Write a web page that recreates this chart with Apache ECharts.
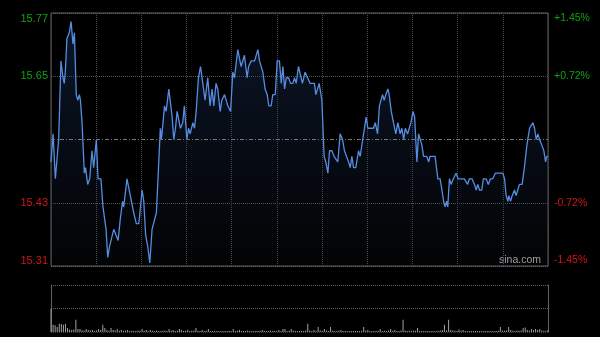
<!DOCTYPE html>
<html><head><meta charset="utf-8">
<script src="https://cdn.jsdelivr.net/npm/echarts@6/dist/echarts.min.js"></script>
<style>html,body{margin:0;padding:0;background:#000;}#c{width:600px;height:337px;}</style>
</head><body><div id="c"></div>
<script>
const prevClose = 15.54;
const pctTicks = [-1.45, -0.725, 0, 0.725, 1.45];
const leftTickLabels = ['15.31', '15.43', '', '15.65', '15.77'];
const rightTickLabels = ['-1.45%', '-0.72%', '', '+0.72%', '+1.45%'];
const watermark = 'sina.com';

const priceTimes = [0,1.0,2.1,2.6,3.7,4.8,5.8,6.4,6.9,7.7,8.8,9.7,10.6,11.3,12.2,12.9,13.7,14.2,15.0,16.1,16.7,17.7,18.7,19.8,20.6,21.9,22.7,24.1,25.1,25.8,26.6,27.4,28.3,29.0,30.3,31.4,32.4,33.5,34.6,35.1,36.7,38.3,39.9,41.2,42.4,44.0,44.8,45.7,46.7,47.7,48.8,50.9,52.8,53.3,54.1,54.8,55.6,56.9,58.5,59.3,
60.1,60.9,62.5,63.6,64.4,65.6,66.4,67.2,68.5,69.3,70.1,71.2,72.2,73.3,74.4,75.7,76.8,77.8,78.6,79.7,80.5,81.7,82.5,83.8,85.4,86.7,87.8,88.6,90.2,91.8,92.6,93.4,94.7,95.4,96.7,98.3,99.9,100.7,102.3,103.4,104.4,105.2,106.3,107.1,108.3,109.2,110.3,111.2,112.0,112.8,113.6,114.7,115.7,116.8,117.6,118.4,
119.5,120.3,121.4,122.7,123.9,125.1,127.2,127.9,128.7,129.5,130.8,131.9,132.7,133.7,134.5,135.6,136.7,137.5,138.5,139.6,140.8,141.7,142.5,143.7,144.5,145.3,146.1,147.2,148.5,149.3,150.1,150.9,152.2,153.0,154.1,155.7,156.6,157.7,158.6,159.5,160.1,160.9,161.7,162.7,163.3,164.3,165.4,166.5,167.5,168.6,169.4,170.3,171.1,172.2,173.0,173.8,174.8,175.6,176.7,177.5,178.3,179.1,179.9,
180.3,181.4,182.4,183.0,184.0,185.5,186.8,187.9,188.8,189.6,190.3,191.1,191.6,192.4,193.2,194.3,195.6,196.6,197.5,199.6,201.2,202.0,203.3,204.5,205.3,206.1,206.9,208.0,208.8,210.1,211.2,212.2,213.3,214.6,216.6,218.2,219.0,219.8,220.6,221.1,221.9,222.7,223.8,224.6,225.4,226.2,227.5,228.6,229.8,231.1,231.9,232.7,233.5,234.3,235.1,235.9,237.0,238.0,238.8,239.4,240];

const prices = [15.50,15.55,15.47,15.47,15.54,15.68,15.65,15.64,15.66,15.72,15.73,15.75,15.71,15.73,15.62,15.61,15.62,15.61,15.57,15.48,15.49,15.46,15.47,15.52,15.49,15.54,15.47,15.47,15.42,15.42,15.38,15.33,15.35,15.35,15.38,15.37,15.36,15.40,15.43,15.42,15.47,15.44,15.41,15.39,15.39,15.45,15.43,15.37,15.35,15.32,15.38,15.41,15.56,15.54,15.57,15.60,15.59,15.63,15.58,15.54,
15.56,15.59,15.56,15.57,15.60,15.54,15.56,15.55,15.57,15.56,15.59,15.65,15.67,15.64,15.61,15.65,15.60,15.63,15.60,15.64,15.63,15.59,15.61,15.62,15.60,15.59,15.66,15.65,15.70,15.67,15.67,15.69,15.65,15.67,15.68,15.68,15.70,15.68,15.66,15.63,15.62,15.60,15.60,15.62,15.62,15.68,15.68,15.64,15.67,15.63,15.65,15.65,15.64,15.64,15.65,15.64,
15.67,15.67,15.64,15.66,15.65,15.64,15.64,15.62,15.62,15.64,15.61,15.51,15.50,15.48,15.52,15.52,15.51,15.51,15.50,15.55,15.54,15.52,15.52,15.50,15.49,15.51,15.49,15.49,15.52,15.51,15.53,15.53,15.58,15.56,15.56,15.56,15.57,15.55,15.60,15.60,15.62,15.61,15.62,15.63,15.62,15.59,15.57,15.55,15.57,15.55,15.56,15.54,15.56,15.55,15.56,15.57,15.59,15.58,15.50,15.55,15.54,15.53,15.51,
15.51,15.51,15.50,15.51,15.51,15.51,15.47,15.47,15.45,15.43,15.42,15.43,15.42,15.47,15.46,15.47,15.48,15.47,15.47,15.47,15.46,15.47,15.47,15.46,15.45,15.46,15.45,15.45,15.47,15.47,15.46,15.47,15.47,15.48,15.48,15.48,15.47,15.44,15.43,15.44,15.43,15.44,15.45,15.44,15.45,15.46,15.46,15.49,15.53,15.56,15.56,15.57,15.56,15.54,15.55,15.54,15.53,15.52,15.50,15.51,15.51];

const volumes = [2300,700,650,500,800,780,700,800,400,250,200,250,1200,300,300,180,150,300,200,150,
200,120,150,300,200,700,400,200,120,400,200,150,300,120,200,100,120,200,100,120,
100,100,150,120,300,120,200,100,200,120,100,150,100,100,120,150,100,300,120,200,
100,120,300,200,100,120,200,100,120,150,400,120,100,200,100,120,300,100,100,120,
100,80,100,100,80,100,120,100,300,100,120,200,100,80,100,150,100,80,100,80,
100,120,200,100,80,100,150,100,80,100,200,100,300,300,100,120,300,150,100,80,
100,120,100,150,800,150,100,200,100,500,150,120,300,150,100,500,120,100,100,120,
200,100,80,100,80,100,100,80,100,100,120,500,150,200,100,100,80,100,120,300,
100,120,100,150,300,120,200,100,100,150,1200,150,100,120,100,150,120,400,100,100,
80,100,100,80,100,80,100,120,150,200,700,150,1200,200,150,120,100,250,120,200,
100,80,100,80,100,80,100,80,100,100,80,100,80,100,100,80,120,500,150,120,
150,500,200,120,100,150,120,150,400,450,200,150,300,200,300,200,300,150,120,100,
200];

const pricePoints = priceTimes.map((t, k) => [t, +((prices[k] / prevClose - 1) * 100).toFixed(4)]);
const volPoints = volumes.map((v, k) => [k, v]);

const GREEN = '#12a012', RED = '#d41414';
const chart = echarts.init(document.getElementById('c'), null, {renderer: 'canvas'});
chart.setOption({
  backgroundColor: '#000',
  animation: false,
  grid: [
    {left: 51, top: 13, width: 497, height: 253, show: true, borderColor: '#626262', borderWidth: 1, backgroundColor: 'transparent'},
    {left: 51, top: 285, width: 497, height: 47}
  ],
  xAxis: [
    {type: 'value', gridIndex: 0, min: 0, max: 240, interval: 240 / 11,
     axisLine: {show: false}, axisTick: {show: false}, axisLabel: {show: false},
     splitLine: {show: true, lineStyle: {color: '#4a4a4a', width: 1, type: [1, 1]}}},
    {type: 'value', gridIndex: 1, min: 0, max: 240, interval: 240 / 11,
     axisLine: {show: false}, axisTick: {show: false}, axisLabel: {show: false}, splitLine: {show: false}}
  ],
  yAxis: [
    {type: 'value', gridIndex: 0, position: 'left', min: -1.45, max: 1.45, interval: 0.725,
     axisLine: {show: false}, axisTick: {show: false},
     splitLine: {show: true, lineStyle: {color: ['#626262', '#555555', 'rgba(0,0,0,0)', '#555555', '#626262'], width: 1, type: [1, 1]}},
     axisLabel: {show: true, margin: 3, fontFamily: 'Liberation Sans, Arial, sans-serif', fontSize: 11,
       formatter: (v, i) => {
         const t = leftTickLabels[i]; if (!t) return '';
         const s = i === 0 ? 'rb' : i === 1 ? 'r' : i === 3 ? 'g' : 'gt';
         return '{' + s + '|' + t + '}';
       },
       rich: {g: {color: GREEN, fontSize: 11}, gt: {color: GREEN, fontSize: 11, padding: [11, 0, 0, 0]},
              r: {color: RED, fontSize: 11}, rb: {color: RED, fontSize: 11, padding: [0, 0, 11, 0]}}}},
    {type: 'value', gridIndex: 0, position: 'right', min: -1.45, max: 1.45, interval: 0.725,
     axisLine: {show: false}, axisTick: {show: false}, splitLine: {show: false},
     axisLabel: {show: true, margin: 6, fontFamily: 'Liberation Sans, Arial, sans-serif', fontSize: 10,
       formatter: (v, i) => {
         const t = rightTickLabels[i]; if (!t) return '';
         const s = i === 0 ? 'rb' : i === 1 ? 'r' : i === 3 ? 'g' : 'gt';
         return '{' + s + '|' + t + '}';
       },
       rich: {g: {color: GREEN, fontSize: 10.5}, gt: {color: GREEN, fontSize: 10.5, padding: [11, 0, 0, 0]},
              r: {color: RED, fontSize: 10.5}, rb: {color: RED, fontSize: 10.5, padding: [0, 0, 11, 0]}}}},
    {type: 'value', gridIndex: 1, position: 'left', min: 0, max: 4600, interval: 2300,
     axisLine: {show: true, lineStyle: {color: '#626262'}}, axisTick: {show: false}, axisLabel: {show: false},
     splitLine: {show: true, lineStyle: {color: ['#3a3a3a', '#626262', '#626262'], width: 1, type: [1, 1]}}},
    {type: 'value', gridIndex: 1, position: 'right', min: 0, max: 4600, interval: 2300,
     axisLine: {show: true, lineStyle: {color: '#626262'}}, axisTick: {show: false}, axisLabel: {show: false}, splitLine: {show: false}}
  ],
  series: [
    {type: 'line', xAxisIndex: 0, yAxisIndex: 0, data: pricePoints, showSymbol: false, symbol: 'none',
     lineStyle: {color: '#558de2', width: 1.3},
     areaStyle: {color: new echarts.graphic.LinearGradient(0, 14, 0, 266, [
        {offset: 0, color: 'rgba(40,75,140,0.45)'}, {offset: 1, color: 'rgba(30,45,70,0.12)'}], true), origin: 'start'},
     markLine: {silent: true, symbol: 'none', label: {show: false},
       lineStyle: {color: '#767676', width: 1, type: [4, 2, 1, 2]}, data: [{yAxis: 0}]}},
    {type: 'bar', xAxisIndex: 1, yAxisIndex: 2, data: volPoints, barWidth: 1, barMinHeight: 1,
     itemStyle: {color: '#a0a0a0'}}
  ],
  graphic: [
    {type: 'text', left: 499, top: 255, style: {text: watermark, fill: '#a8a8a8', font: '10.5px "Liberation Sans", Arial, sans-serif'}}
  ]
});
</script></body></html>
